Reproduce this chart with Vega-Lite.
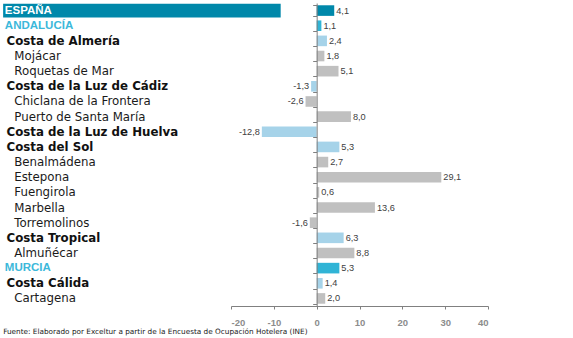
{
  "$schema": "https://vega.github.io/schema/vega-lite/v6.json",
  "width": 257,
  "height": 303,
  "autosize": {"type": "none"},
  "padding": {"left": 231, "top": 3, "right": 85, "bottom": 32},
  "config": {
    "view": {"stroke": null},
    "locale": {"number": {"decimal": ",", "thousands": ".", "grouping": [3], "currency": ["", " €"], "minus": "-"}}
  },
  "title": {
    "text": "Fuente: Elaborado por Exceltur a partir de la Encuesta de Ocupación Hotelera (INE)",
    "orient": "bottom",
    "anchor": "start",
    "frame": "bounds",
    "font": "DejaVu Sans",
    "fontSize": 7.3,
    "fontWeight": "normal",
    "color": "#222222",
    "offset": 1
  },
  "data": {
    "values": [
      {"name": "ESPAÑA", "level": "país", "value": 4.1},
      {"name": "ANDALUCÍA", "level": "comunidad", "value": 1.1},
      {"name": "Costa de Almería", "level": "costa", "value": 2.4},
      {"name": "Mojácar", "level": "municipio", "value": 1.8},
      {"name": "Roquetas de Mar", "level": "municipio", "value": 5.1},
      {"name": "Costa de la Luz de Cádiz", "level": "costa", "value": -1.3},
      {"name": "Chiclana de la Frontera", "level": "municipio", "value": -2.6},
      {"name": "Puerto de Santa María", "level": "municipio", "value": 8.0},
      {"name": "Costa de la Luz de Huelva", "level": "costa", "value": -12.8},
      {"name": "Costa del Sol", "level": "costa", "value": 5.3},
      {"name": "Benalmádena", "level": "municipio", "value": 2.7},
      {"name": "Estepona", "level": "municipio", "value": 29.1},
      {"name": "Fuengirola", "level": "municipio", "value": 0.6},
      {"name": "Marbella", "level": "municipio", "value": 13.6},
      {"name": "Torremolinos", "level": "municipio", "value": -1.6},
      {"name": "Costa Tropical", "level": "costa", "value": 6.3},
      {"name": "Almuñécar", "level": "municipio", "value": 8.8},
      {"name": "MURCIA", "level": "comunidad", "value": 5.3},
      {"name": "Costa Cálida", "level": "costa", "value": 1.4},
      {"name": "Cartagena", "level": "municipio", "value": 2.0}
    ]
  },
  "encoding": {
    "y": {
      "field": "name",
      "type": "nominal",
      "sort": null,
      "scale": {"paddingInner": 0.3, "paddingOuter": 0.15},
      "axis": {
        "title": null,
        "zindex": 1,
        "offset": -85.67,
        "domainColor": "#808080",
        "tickColor": "#808080",
        "tickSize": 4,
        "tickBand": "extent",
        "labels": false
      }
    }
  },
  "layer": [
    {
      "transform": [{"filter": "datum.level == 'país'"}],
      "mark": {"type": "rect", "color": "#0088aa", "height": {"band": 1.3}},
      "encoding": {
        "x": {"datum": -73.2, "type": "quantitative"},
        "x2": {"datum": -8.4}
      }
    },
    {
      "mark": {"type": "bar"},
      "encoding": {
        "x": {
          "field": "value",
          "type": "quantitative",
          "scale": {"domain": [-20, 40], "nice": false, "zero": false},
          "axis": {
            "title": null,
            "grid": false,
            "values": [-20, -10, 0, 10, 20, 30, 40],
            "format": "d",
            "domainColor": "#808080",
            "tickColor": "#808080",
            "tickSize": 3,
            "labelPadding": 8,
            "labelFont": "Liberation Sans",
            "labelFontSize": 9.5,
            "labelFontWeight": "bold",
            "labelColor": "#8c8c8c"
          }
        },
        "color": {
          "field": "level",
          "type": "nominal",
          "legend": null,
          "scale": {
            "domain": ["país", "comunidad", "costa", "municipio"],
            "range": ["#0088aa", "#30b4d6", "#a6d3e9", "#c0c0c0"]
          }
        }
      }
    },
    {
      "transform": [{"filter": "datum.level == 'país'"}],
      "mark": {"type": "text", "align": "left", "baseline": "middle", "font": "Liberation Sans", "fontWeight": "bold", "fontSize": 11.5, "color": "#ffffff"},
      "encoding": {
        "x": {"datum": -72.8, "type": "quantitative"},
        "text": {"field": "name"}
      }
    },
    {
      "transform": [{"filter": "datum.level == 'comunidad'"}],
      "mark": {"type": "text", "align": "left", "baseline": "middle", "font": "Liberation Sans", "fontWeight": "bold", "fontSize": 11.5, "color": "#3cb8da"},
      "encoding": {
        "x": {"datum": -72.8, "type": "quantitative"},
        "text": {"field": "name"}
      }
    },
    {
      "transform": [{"filter": "datum.level == 'costa'"}],
      "mark": {"type": "text", "align": "left", "baseline": "middle", "font": "DejaVu Sans", "fontWeight": "bold", "fontSize": 11.8, "color": "#111111"},
      "encoding": {
        "x": {"datum": -72.4, "type": "quantitative"},
        "text": {"field": "name"}
      }
    },
    {
      "transform": [{"filter": "datum.level == 'municipio'"}],
      "mark": {"type": "text", "align": "left", "baseline": "middle", "font": "DejaVu Sans", "fontWeight": "normal", "fontSize": 11.8, "color": "#1a1a1a"},
      "encoding": {
        "x": {"datum": -70.6, "type": "quantitative"},
        "text": {"field": "name"}
      }
    },
    {
      "transform": [{"filter": "datum.value >= 0"}],
      "mark": {"type": "text", "align": "left", "baseline": "middle", "dx": 2, "font": "Liberation Sans", "fontSize": 9.2, "color": "#404040"},
      "encoding": {
        "x": {"field": "value", "type": "quantitative"},
        "text": {"field": "value", "type": "quantitative", "format": ".1f"}
      }
    },
    {
      "transform": [{"filter": "datum.value < 0"}],
      "mark": {"type": "text", "align": "right", "baseline": "middle", "dx": -2, "font": "Liberation Sans", "fontSize": 9.2, "color": "#404040"},
      "encoding": {
        "x": {"field": "value", "type": "quantitative"},
        "text": {"field": "value", "type": "quantitative", "format": ".1f"}
      }
    }
  ]
}
